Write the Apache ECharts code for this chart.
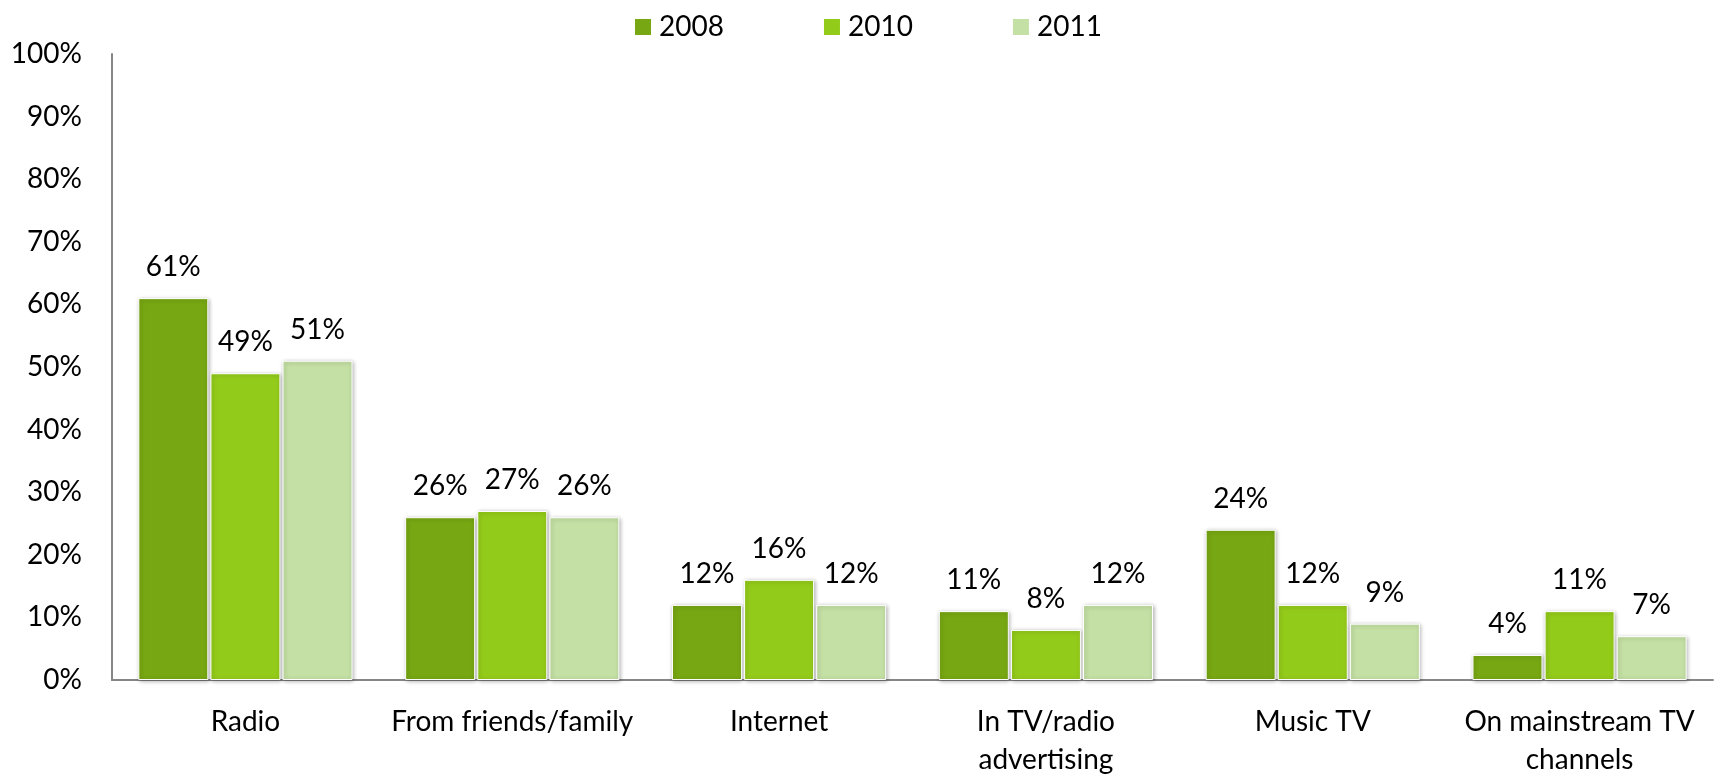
<!DOCTYPE html>
<html>
<head>
<meta charset="utf-8">
<script src="https://cdn.jsdelivr.net/npm/echarts@6/dist/echarts.min.js"></script>
<style>
  html, body { margin: 0; padding: 0; background: #fff; overflow: hidden; }
  #chart { width: 1719px; height: 779px; }
</style>
</head>
<body>
<div id="chart"></div>
<script>
// Where people hear about new music, share of respondents by year
const categories = ['Radio', 'From friends/family', 'Internet', 'In TV/radio\nadvertising', 'Music TV', 'On mainstream TV\nchannels'];
const years = ['2008', '2010', '2011'];
const values2008 = [61, 26, 12, 11, 24, 4];
const values2010 = [49, 27, 16, 8, 12, 11];
const values2011 = [51, 26, 12, 12, 9, 7];
const colors = ['#77A712', '#93CB1A', '#C4E0A4'];

const FONT = 'Lato';
const FS = 28;
const seriesValues = [values2008, values2010, values2011];

const chart = echarts.init(document.getElementById('chart'), null, { renderer: 'canvas' });

chart.setOption({
  animation: false,
  textStyle: { fontFamily: FONT, color: '#000' },
  legend: {
    top: 8,
    left: 628,
    itemWidth: 18,
    itemHeight: 18,
    itemGap: 98,
    icon: 'rect',
    textStyle: { fontFamily: FONT, fontSize: FS, color: '#000', padding: [0, 0, 0, 2] },
    data: years
  },
  grid: { left: 112, right: 6, top: 54, bottom: 97, containLabel: false },
  xAxis: {
    type: 'category',
    data: categories,
    axisLine: { lineStyle: { color: '#868686', width: 2 } },
    axisTick: { show: false },
    axisLabel: { fontFamily: FONT, fontSize: FS, color: '#000', margin: 23, lineHeight: 38, interval: 0 }
  },
  yAxis: {
    type: 'value',
    min: 0,
    max: 100,
    interval: 10,
    axisLine: { show: true, lineStyle: { color: '#868686', width: 2 } },
    axisTick: { show: false },
    splitLine: { show: false },
    axisLabel: { fontFamily: FONT, fontSize: FS, color: '#000', margin: 30, formatter: '{value}%' }
  },
  series: years.map((y, i) => ({
    name: y,
    type: 'bar',
    data: seriesValues[i],
    barWidth: 70,
    barGap: '3%',
    itemStyle: {
      color: colors[i],
      borderColor: '#fff',
      borderWidth: 1,
      shadowColor: 'rgba(0,0,0,0.3)',
      shadowBlur: 4,
      shadowOffsetX: 1,
      shadowOffsetY: 1
    },
    label: {
      show: true,
      position: 'top',
      distance: 17,
      fontFamily: FONT,
      fontSize: FS,
      color: '#000',
      formatter: '{c}%'
    }
  }))
});
</script>
</body>
</html>
